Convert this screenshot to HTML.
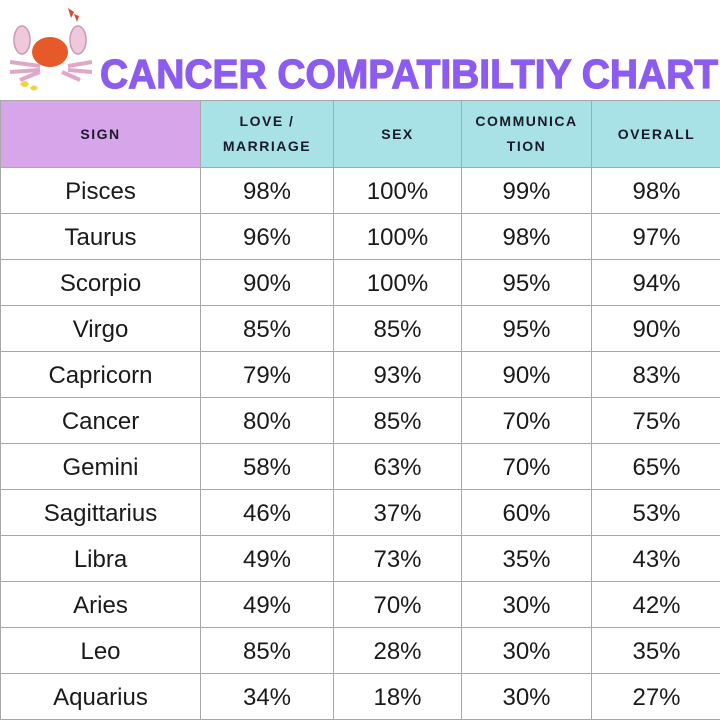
<!DOCTYPE html>
<html><head><style>
body{margin:0;width:720px;height:720px;background:#fff;overflow:hidden;position:relative;font-family:"Liberation Sans",sans-serif}
table{position:absolute;left:0;top:100px;border-collapse:collapse;width:721px;table-layout:fixed}
td{border:1px solid #a8a8a8;text-align:center;height:43px;font-size:24px;color:#1a1a1a;padding:2px 0 0 0}
tr.h td{height:66px;font-size:14px;font-weight:bold;letter-spacing:1.5px;color:#1a1a2a;background:#a8e2e6;line-height:25px;padding:0}
tr.h td:first-child{background:#d7a6ea}
</style></head><body>
<svg width="720" height="100" style="position:absolute;left:0;top:0">
<g fill="#f0c8dc" stroke="#c89ab8" stroke-width="1.5">
<ellipse cx="22" cy="40" rx="8" ry="14"/><ellipse cx="78" cy="40" rx="8" ry="14"/>
<path d="M10 62 L40 66 M10 72 L40 70 M68 66 L92 62 M68 70 L92 72 M20 80 L40 72 M80 80 L62 72" fill="none" stroke="#e0a8c8" stroke-width="4"/>
</g>
<ellipse cx="50" cy="52" rx="18" ry="15" fill="#e55a28"/>
<path d="M68 8 l6 4 l-3 6z M74 14 l5 2 l-2 6z" fill="#e0482a"/>
<path d="M20 84 q5 -6 9 0 q-4 6 -9 0z M30 88 q4 -5 8 0 q-4 5 -8 0z" fill="#f2d33a"/>
<text x="100" y="88" textLength="618" lengthAdjust="spacingAndGlyphs" font-family="Liberation Sans" font-weight="bold" font-size="41" fill="#8c5cf0" stroke="#8c5cf0" stroke-width="1.2">CANCER COMPATIBILTIY CHART</text>
</svg>
<table>
<colgroup><col style="width:200px"><col style="width:133px"><col style="width:128px"><col style="width:130px"><col style="width:130px"></colgroup>
<tr class="h"><td>SIGN</td><td>LOVE /<br>MARRIAGE</td><td>SEX</td><td>COMMUNICA<br>TION</td><td>OVERALL</td></tr>
<tr><td>Pisces</td><td>98%</td><td>100%</td><td>99%</td><td>98%</td></tr>
<tr><td>Taurus</td><td>96%</td><td>100%</td><td>98%</td><td>97%</td></tr>
<tr><td>Scorpio</td><td>90%</td><td>100%</td><td>95%</td><td>94%</td></tr>
<tr><td>Virgo</td><td>85%</td><td>85%</td><td>95%</td><td>90%</td></tr>
<tr><td>Capricorn</td><td>79%</td><td>93%</td><td>90%</td><td>83%</td></tr>
<tr><td>Cancer</td><td>80%</td><td>85%</td><td>70%</td><td>75%</td></tr>
<tr><td>Gemini</td><td>58%</td><td>63%</td><td>70%</td><td>65%</td></tr>
<tr><td>Sagittarius</td><td>46%</td><td>37%</td><td>60%</td><td>53%</td></tr>
<tr><td>Libra</td><td>49%</td><td>73%</td><td>35%</td><td>43%</td></tr>
<tr><td>Aries</td><td>49%</td><td>70%</td><td>30%</td><td>42%</td></tr>
<tr><td>Leo</td><td>85%</td><td>28%</td><td>30%</td><td>35%</td></tr>
<tr><td>Aquarius</td><td>34%</td><td>18%</td><td>30%</td><td>27%</td></tr>
</table>
</body></html>
